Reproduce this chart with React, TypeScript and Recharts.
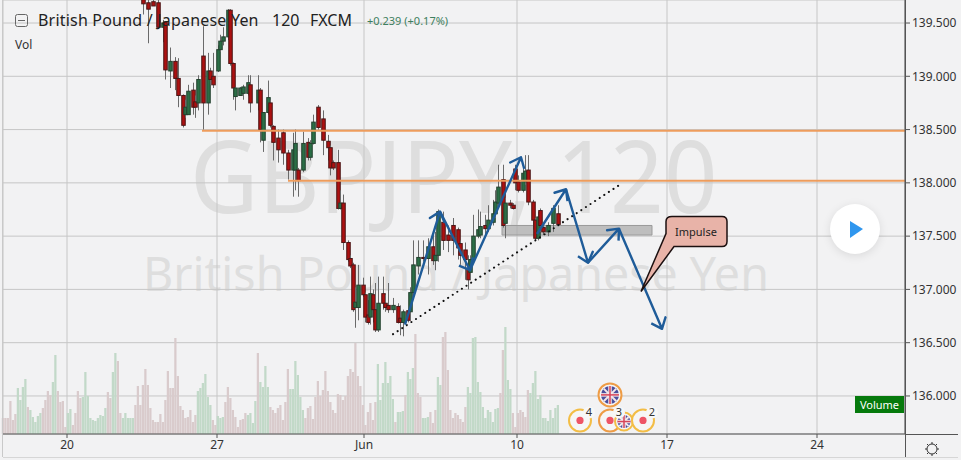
import {
  Bar,
  CartesianGrid,
  Cell,
  ComposedChart,
  ReferenceArea,
  ReferenceDot,
  ReferenceLine,
  XAxis,
  YAxis,
} from 'recharts';

const FONT = '"Noto Sans", sans-serif';

// every 2h bar gets one slot on the time axis
const SLOT_COUNT = 360.8;
const timeTicks = [25.6, 85.6, 144.4, 205.6, 265.6, 325.6];
const timeLabels = ['20', '27', 'Jun', '10', '17', '24'];
const priceTicks = [136, 136.5, 137, 137.5, 138, 138.5, 139, 139.5];
const priceDomain = [135.643, 139.716];

const volumes = [
  16, 16, 16, 33, 14, 20, 46, 34, 47, 55, 27, 24, 17, 12, 18, 21, 26, 34, 43, 39,
  52, 79, 43, 32, 33, 7, 21, 25, 9, 21, 43, 36, 37, 62, 38, 16, 14, 13, 16, 19,
  18, 26, 42, 36, 62, 81, 73, 21, 16, 21, 16, 16, 16, 29, 48, 29, 49, 65, 49, 26,
  14, 12, 12, 20, 12, 34, 63, 46, 46, 96, 58, 28, 24, 16, 17, 24, 12, 19, 43, 46,
  51, 60, 37, 29, 14, 9, 18, 16, 17, 32, 47, 36, 24, 17, 7, 14, 15, 21, 19, 21,
  11, 33, 81, 52, 47, 68, 47, 27, 24, 21, 26, 29, 14, 32, 65, 45, 45, 73, 59, 37,
  24, 16, 26, 28, 15, 37, 53, 38, 44, 63, 43, 32, 24, 21, 40, 39, 34, 38, 58, 65,
  62, 91, 58, 48, 29, 9, 22, 31, 14, 32, 70, 34, 51, 72, 51, 58, 35, 12, 22, 22,
  23, 39, 62, 55, 66, 100, 41, 37, 16, 16, 17, 22, 11, 24, 57, 49, 97, 102, 64, 24,
  16, 21, 19, 15, 12, 27, 47, 41, 96, 97, 52, 42, 27, 16, 24, 22, 12, 25, 26, 41,
  84, 107, 54, 45, 21, 7, 21, 24, 22, 17, 44, 41, 51, 63, 35, 39, 16, 16, 13, 24,
  16, 26, 29,
];
// first and last slot of each run of rising volume bars
const greenRuns = [
  [6, 9], [11, 15], [20, 21], [26, 27], [32, 41], [44, 45], [48, 52], [78, 83], [86, 88],
  [98, 101], [103, 106], [115, 120], [150, 156], [158, 160], [162, 164], [168, 170],
  [174, 175], [186, 198], [201, 203], [211, 222],
];

const candleSlot = [
  56, 58, 60, 62, 64, 65, 67, 69, 70, 72, 73, 74, 76, 77, 78, 80, 82, 83, 84, 86,
  87, 88, 90, 91, 92, 93, 95, 96, 98, 99, 102, 103, 104, 106, 107, 108, 110, 112, 114, 116,
  117, 118, 120, 122, 123, 124, 126, 128, 130, 131, 132, 134, 135, 136, 138, 139, 140, 141, 142, 144,
  145, 146, 147, 148, 149, 150, 152, 153, 154, 156, 158, 159, 160, 162, 163, 164, 166, 168, 170, 172,
  173, 174, 176, 178, 180, 182, 183, 185, 186, 187, 188, 190, 191, 193, 194, 196, 197, 198, 200, 201,
  203, 204, 205, 206, 208, 209, 210, 212, 213, 214, 215, 216, 218, 220, 222, 223,
];
const candleOpen = [
  139.72, 139.69, 139.70, 139.69, 139.46, 139.51, 139.05, 139.14, 138.98, 138.82,
  138.64, 138.64, 138.87, 138.76, 138.75, 139.19, 138.75, 139.05, 139.00, 139.05,
  139.25, 139.33, 139.37, 139.62, 139.12, 138.81, 138.82, 138.84, 138.84, 138.92,
  138.75, 138.87, 138.40, 138.66, 138.75, 138.53, 138.42, 138.47, 138.28, 138.12,
  138.12, 138.12, 138.12, 138.38, 138.24, 138.37, 138.71, 138.60, 138.39, 138.33,
  138.19, 138.19, 137.76, 137.81, 137.44, 137.29, 137.23, 136.83, 136.83, 137.04,
  136.95, 136.76, 136.74, 136.95, 136.81, 136.62, 136.96, 136.87, 136.85, 136.81,
  136.84, 136.73, 136.69, 136.80, 136.79, 136.97, 137.22, 137.30, 137.29, 137.40,
  137.27, 137.32, 137.63, 137.51, 137.60, 137.56, 137.43, 137.37, 137.20, 137.16,
  137.28, 137.50, 137.51, 137.60, 137.57, 137.63, 137.71, 137.81, 138.03, 137.62,
  137.81, 137.79, 138.13, 138.01, 137.93, 138.01, 138.12, 137.82, 137.65, 137.48,
  137.74, 137.58, 137.54, 137.62, 137.71, 137.61,
];
const candleHigh = [
  139.78, 139.72, 139.76, 139.72, 139.53, 139.51, 139.27, 139.18, 139.17, 138.83,
  138.78, 138.92, 138.94, 138.82, 139.01, 139.47, 139.22, 139.08, 139.22, 139.29,
  139.39, 139.46, 139.63, 139.63, 139.13, 138.90, 138.90, 138.92, 139.01, 139.01,
  139.01, 138.89, 138.66, 138.96, 138.78, 138.54, 138.50, 138.50, 138.31, 138.47,
  138.50, 138.14, 138.48, 138.42, 138.40, 138.64, 138.73, 138.68, 138.45, 138.35,
  138.21, 138.31, 137.93, 137.89, 137.46, 137.32, 137.25, 137.02, 137.23, 137.11,
  136.97, 136.90, 137.12, 137.00, 137.06, 137.12, 137.12, 136.95, 137.06, 136.92,
  136.87, 136.85, 136.81, 136.81, 137.02, 137.46, 137.46, 137.46, 137.48, 137.51,
  137.54, 137.75, 137.73, 137.60, 137.67, 137.58, 137.46, 137.44, 137.32, 137.32,
  137.70, 137.75, 137.73, 137.70, 137.79, 137.84, 137.93, 138.17, 138.17, 137.86,
  137.84, 137.81, 138.17, 138.07, 138.14, 138.26, 138.26, 137.84, 137.67, 137.73,
  137.76, 137.60, 137.63, 137.79, 137.79, 137.95,
];
const candleLow = [
  139.58, 139.31, 139.66, 139.45, 139.32, 138.97, 138.89, 138.87, 138.71, 138.52,
  138.61, 138.64, 138.64, 138.61, 138.68, 138.50, 138.64, 138.92, 138.89, 139.04,
  139.23, 139.29, 139.34, 139.10, 138.78, 138.68, 138.82, 138.78, 138.82, 138.66,
  138.68, 138.38, 138.29, 138.64, 138.52, 138.21, 138.19, 138.17, 138.03, 137.87,
  137.93, 137.87, 138.10, 138.21, 138.21, 138.36, 138.50, 138.26, 138.21, 138.07,
  138.12, 137.75, 137.75, 137.37, 137.26, 137.20, 136.79, 136.64, 136.71, 136.93,
  136.69, 136.67, 136.67, 136.69, 136.60, 136.60, 136.81, 136.79, 136.78, 136.78,
  136.68, 136.57, 136.56, 136.69, 136.71, 136.90, 137.14, 137.26, 137.14, 137.23,
  137.18, 137.26, 137.37, 137.35, 137.32, 137.28, 137.23, 137.09, 137.00, 137.09,
  137.26, 137.48, 137.48, 137.51, 137.54, 137.60, 137.67, 137.79, 137.58, 137.48,
  137.76, 137.75, 137.93, 137.91, 137.91, 137.98, 137.79, 137.56, 137.46, 137.46,
  137.54, 137.51, 137.50, 137.54, 137.60, 137.60,
];
const candleClose = [
  139.68, 139.63, 139.66, 139.46, 139.50, 139.06, 139.14, 138.98, 138.82, 138.54,
  138.71, 138.86, 138.71, 138.71, 138.97, 138.75, 139.05, 138.97, 138.92, 139.25,
  139.33, 139.37, 139.62, 139.12, 138.89, 138.89, 138.89, 138.90, 138.94, 138.75,
  138.87, 138.50, 138.66, 138.80, 138.54, 138.38, 138.31, 138.28, 138.12, 138.31,
  138.37, 138.02, 138.37, 138.24, 138.37, 138.57, 138.52, 138.40, 138.33, 138.14,
  138.14, 137.76, 137.81, 137.44, 137.28, 137.22, 136.81, 136.88, 137.04, 136.95,
  136.74, 136.69, 136.96, 136.81, 136.62, 136.87, 136.87, 136.83, 136.81, 136.85,
  136.69, 136.69, 136.79, 136.71, 136.97, 137.23, 137.30, 137.29, 137.40, 137.27,
  137.32, 137.73, 137.46, 137.46, 137.46, 137.39, 137.32, 137.28, 137.09, 137.28,
  137.50, 137.56, 137.59, 137.57, 137.65, 137.71, 137.82, 137.96, 137.60, 137.81,
  137.79, 137.76, 138.00, 137.93, 138.09, 138.11, 137.82, 137.65, 137.48, 137.68,
  137.60, 137.54, 137.60, 137.76, 137.61, 137.84,
];

// drawings the author put on the chart, in slot / price terms
const levelStartSlots = [79.6, 114];
const levelPrices = [138.49, 138.02];
const trendSlots = [156, 247.2];
const trendPrices = [136.58, 137.99];
const arrowSlots = [160.8, 174.8, 186.8, 207.2];
const arrowPrices = [136.67, 137.73, 137.18, 138.24];
const arrow2Slots = [213.6, 225.2, 234, 246.4, 263.6];
const arrow2Prices = [137.52, 137.94, 137.25, 137.57, 136.63];
const zoneSlots = [199.6, 259.6];
const zonePrices = [137.6, 137.51];
const calloutTip = { slot: 255.2, price: 136.98 };

const eventSlots = [230.8, 242.8, 256];
const eventCounts = ['4', '3', '2'];
const eventRings = ['#f3bd45', '#ee9c45', '#f3bd45'];
const EVENT_PRICE = 135.77;
const flagSpots = [
  { slot: 242.8, price: 136.01, r: 11.5, ring: '#ee9c45' },
  { slot: 248.4, price: 135.76, r: 9, ring: '#f3bd45' },
];

const rows = volumes.map((volume, slot) => {
  const k = candleSlot.indexOf(slot);
  return {
    slot,
    volume,
    green: greenRuns.some(([a, b]) => slot >= a && slot <= b),
    open: k < 0 ? null : candleOpen[k],
    high: k < 0 ? null : candleHigh[k],
    low: k < 0 ? null : candleLow[k],
    close: k < 0 ? null : candleClose[k],
  };
});

function Candle(props: any) {
  const { x, y, width, height, payload } = props;
  if (payload.open == null || height == null) return null;
  const pxPerPrice = height / (payload.high - payload.low);
  const up = payload.close >= payload.open;
  const top = y + (payload.high - Math.max(payload.open, payload.close)) * pxPerPrice;
  const bodyH = Math.abs(payload.open - payload.close) * pxPerPrice;
  const mid = Math.round(x + width / 2);
  return (
    <g>
      <line x1={mid + 0.5} x2={mid + 0.5} y1={y} y2={y + height} stroke="#6a6a6a" />
      <rect
        x={mid - 1.25}
        y={top}
        width={3.5}
        height={Math.max(bodyH, 1)}
        fill={up ? '#2a6e46' : '#ad1010'}
        stroke={up ? '#24402f' : '#4a1616'}
        strokeWidth={1}
      />
    </g>
  );
}

const ARROW = '#1f5c99';

function Arrow(props: any) {
  const { x1, y1, x2, y2 } = props;
  const angle = Math.atan2(y2 - y1, x2 - x1);
  const head = (turn: number) =>
    `${x2 - 12 * Math.cos(angle + turn)},${y2 - 12 * Math.sin(angle + turn)}`;
  return (
    <polyline
      points={`${x1},${y1} ${x2},${y2} ${head(0.7)} ${x2},${y2} ${head(-0.7)}`}
      fill="none"
      stroke={ARROW}
      strokeWidth={2.4}
      strokeLinejoin="round"
    />
  );
}

function Dotted(props: any) {
  const { x1, y1, x2, y2 } = props;
  return (
    <line
      x1={x1}
      y1={y1}
      x2={x2}
      y2={y2}
      stroke="#111"
      strokeWidth={2}
      strokeDasharray="0.1 5.4"
      strokeLinecap="round"
    />
  );
}

function Callout(props: any) {
  const { cx, cy } = props;
  const path =
    `M ${cx} ${cy} L ${cx + 25} ${cy - 58} L ${cx + 25} ${cy - 70} Q ${cx + 25} ${cy - 75} ${cx + 31} ${cy - 75} ` +
    `L ${cx + 81} ${cy - 75} Q ${cx + 86} ${cy - 75} ${cx + 86} ${cy - 70} L ${cx + 86} ${cy - 50} ` +
    `Q ${cx + 86} ${cy - 45} ${cx + 81} ${cy - 45} L ${cx + 33} ${cy - 45} Z`;
  return (
    <g>
      <path d={path} fill="#e8b3a8" stroke="#1c1010" strokeWidth={1.5} />
      <text x={cx + 55} y={cy - 56} textAnchor="middle" fontSize={11} fontFamily={FONT} fill="#222">
        Impulse
      </text>
    </g>
  );
}

function EventRing(props: any) {
  const { cx, cy, ring } = props;
  return (
    <g>
      <circle cx={cx} cy={cy} r={11} fill="#f6f6f6" stroke={ring} strokeWidth={2} />
      <circle cx={cx} cy={cy} r={3.6} fill="#ee5566" />
    </g>
  );
}

function EventBadge(props: any) {
  const { cx, cy, count } = props;
  return (
    <g>
      <circle cx={cx + 9} cy={cy - 8} r={6} fill="#f7f7f7" />
      <text x={cx + 9} y={cy - 4} textAnchor="middle" fontSize={11} fontFamily={FONT} fill="#333">
        {count}
      </text>
    </g>
  );
}

function FlagMark(props: any) {
  const { cx, cy, r, ring } = props;
  const s = r - 2.5;
  return (
    <g>
      <circle cx={cx} cy={cy} r={r} fill="#f6f6f6" stroke={ring} strokeWidth={2} />
      <circle cx={cx} cy={cy} r={s} fill="#4a4f9c" />
      <line x1={cx - s * 0.7} y1={cy - s * 0.7} x2={cx + s * 0.7} y2={cy + s * 0.7} stroke="#f4e8ea" strokeWidth={2} />
      <line x1={cx - s * 0.7} y1={cy + s * 0.7} x2={cx + s * 0.7} y2={cy - s * 0.7} stroke="#f4e8ea" strokeWidth={2} />
      <line x1={cx - s} y1={cy} x2={cx + s} y2={cy} stroke="#f4e8ea" strokeWidth={3.5} />
      <line x1={cx} y1={cy - s} x2={cx} y2={cy + s} stroke="#f4e8ea" strokeWidth={3.5} />
      <line x1={cx - s} y1={cy} x2={cx + s} y2={cy} stroke="#d6455a" strokeWidth={1.5} />
      <line x1={cx} y1={cy - s} x2={cx} y2={cy + s} stroke="#d6455a" strokeWidth={1.5} />
    </g>
  );
}

const abs = (left: number, top: number, extra: any = {}) => ({
  position: 'absolute' as const,
  left,
  top,
  whiteSpace: 'nowrap' as const,
  fontFamily: FONT,
  ...extra,
});

export default function App() {
  const segs = (xs: number[], ys: number[]) => xs.slice(1).map((x, i) => [
    { x: xs[i], y: ys[i] },
    { x, y: ys[i + 1] },
  ]);

  return (
    <div style={{ position: 'fixed', left: 0, top: 0, width: 961, height: 460, background: '#f2f2f3', overflow: 'hidden' }}>
      {/* watermark sits under the chart */}
      <div style={abs(190, 114, { fontSize: 100, lineHeight: '120px', color: '#dedede', transform: 'scaleX(0.94)', transformOrigin: 'left' })}>GBPJPY, 120</div>
      <div style={abs(143, 240, { fontSize: 48, lineHeight: '66px', color: '#dedede', transform: 'scaleX(0.97)', transformOrigin: 'left' })}>British Pound / Japanese Yen</div>

      <div style={{ position: 'absolute', left: 0, top: 0 }}>
        <ComposedChart width={961} height={460} data={rows} margin={{ top: 0, right: 0, bottom: 0, left: 3 }}>
          <CartesianGrid stroke="#c6c6c6" yAxisId="price" />
          <XAxis
            dataKey="slot"
            type="number"
            domain={[0, SLOT_COUNT]}
            ticks={timeTicks}
            tickFormatter={(v: number) => timeLabels[timeTicks.indexOf(v)]}
            height={26}
            interval={0}
            tickSize={4}
            stroke="#555"
            tick={{ fontSize: 12, fontFamily: FONT, fill: '#333' }}
          />
          <XAxis xAxisId="volTime" dataKey="slot" type="number" domain={[0, SLOT_COUNT]} hide />
          <YAxis
            yAxisId="price"
            orientation="right"
            type="number"
            domain={priceDomain}
            allowDataOverflow
            ticks={priceTicks}
            tickFormatter={(v: number) => v.toFixed(3)}
            width={56}
            interval={0}
            tickSize={5}
            stroke="#555"
            tick={{ fontSize: 12, fontFamily: FONT, fill: '#333' }}
          />
          <YAxis yAxisId="vol" domain={[0, 434]} hide />

          <Bar xAxisId="volTime" yAxisId="vol" dataKey="volume" barSize={3} isAnimationActive={false}>
            {rows.map((r) => (
              <Cell key={r.slot} fill={r.green ? '#c2d9c8' : '#d9cbcc'} />
            ))}
          </Bar>
          <Bar
            yAxisId="price"
            dataKey={(r: any) => (r.open == null ? null : [r.low, r.high])}
            barSize={3}
            shape={Candle}
            isAnimationActive={false}
          />

          {levelPrices.map((p, i) => (
            <ReferenceLine
              key={p}
              yAxisId="price"
              segment={[{ x: levelStartSlots[i], y: p }, { x: SLOT_COUNT, y: p }]}
              stroke="#ee9c5c"
              strokeWidth={2}
            />
          ))}
          <ReferenceLine
            yAxisId="price"
            segment={[{ x: trendSlots[0], y: trendPrices[0] }, { x: trendSlots[1], y: trendPrices[1] }]}
            shape={Dotted}
          />
          {segs(arrowSlots, arrowPrices).map((s, i) => (
            <ReferenceLine key={i} yAxisId="price" segment={s} shape={Arrow} />
          ))}
          {segs(arrow2Slots, arrow2Prices).map((s, i) => (
            <ReferenceLine key={i} yAxisId="price" segment={s} shape={Arrow} />
          ))}
          <ReferenceArea
            yAxisId="price"
            x1={zoneSlots[0]}
            x2={zoneSlots[1]}
            y1={zonePrices[0]}
            y2={zonePrices[1]}
            fill="#acacac"
            fillOpacity={0.75}
            stroke="#9a9a9a"
          />
          <ReferenceDot yAxisId="price" x={calloutTip.slot} y={calloutTip.price} r={1} shape={Callout} />

          {eventSlots.slice(0, 2).map((s, i) => (
            <ReferenceDot
              key={s}
              yAxisId="price"
              x={s}
              y={EVENT_PRICE}
              shape={(p: any) => <EventRing {...p} ring={eventRings[i]} />}
            />
          ))}
          {flagSpots.map((f) => (
            <ReferenceDot
              key={f.slot}
              yAxisId="price"
              x={f.slot}
              y={f.price}
              shape={(p: any) => <FlagMark {...p} r={f.r} ring={f.ring} />}
            />
          ))}
          <ReferenceDot
            yAxisId="price"
            x={eventSlots[2]}
            y={EVENT_PRICE}
            shape={(p: any) => <EventRing {...p} ring={eventRings[2]} />}
          />
          {eventSlots.map((s, i) => (
            <ReferenceDot
              key={s}
              yAxisId="price"
              x={s}
              y={EVENT_PRICE}
              shape={(p: any) => <EventBadge {...p} count={eventCounts[i]} />}
            />
          ))}
        </ComposedChart>
      </div>

      {/* chrome around the plot */}
      <svg width={961} height={460} style={{ position: 'absolute', left: 0, top: 0, pointerEvents: 'none' }}>
        <line x1={2.5} x2={2.5} y1={0} y2={457} stroke="#c9c9c9" />
        <line x1={905.5} x2={905.5} y1={0} y2={457} stroke="#555" />
        <line x1={905} x2={958} y1={434.5} y2={434.5} stroke="#555" />
        <line x1={3} x2={958} y1={457.5} y2={457.5} stroke="#d6d6d6" />
        <g fill="none" stroke="#333" strokeWidth={1}>
          <circle cx={932} cy={449} r={5} />
          <path d="M932 442v2M932 454v2M925 449h2M937 449h2M927 444l1.5 1.5M935.5 452.5l1.5 1.5M927 454l1.5-1.5M935.5 445.5l1.5-1.5" />
        </g>
        <rect x={15.5} y={14.5} width={12} height={12} rx={2} fill="none" stroke="#666" />
        <line x1={18} x2={25} y1={20.5} y2={20.5} stroke="#666" />
      </svg>

      <div style={abs(38, 9, { fontSize: 16, lineHeight: '22px', color: '#222', letterSpacing: 0.2 })}>British Pound / Japanese Yen</div>
      <div style={abs(272, 9, { fontSize: 16, lineHeight: '22px', color: '#222' })}>120</div>
      <div style={abs(310, 9, { fontSize: 16, lineHeight: '22px', color: '#222' })}>FXCM</div>
      <div style={abs(367, 13, { fontSize: 11, lineHeight: '15px', color: '#3e7f5e' })}>+0.239 (+0.17%)</div>
      <div style={abs(15, 37, { fontSize: 12, lineHeight: '16px', color: '#333' })}>Vol</div>

      <div
        style={abs(855, 396, {
          width: 49,
          height: 17,
          background: '#067a0c',
          color: '#fff',
          fontSize: 11,
          lineHeight: '17px',
          textAlign: 'center',
        })}
      >
        Volume
      </div>

      <div
        style={abs(830, 204, {
          width: 50,
          height: 50,
          borderRadius: '50%',
          background: '#fff',
          boxShadow: '0 2px 10px rgba(0,0,0,0.1)',
        })}
      />
      <svg width={20} height={20} style={{ position: 'absolute', left: 848, top: 219 }}>
        <polygon points="2,2 15,10 2,19" fill="#2f96ee" />
      </svg>
    </div>
  );
}
